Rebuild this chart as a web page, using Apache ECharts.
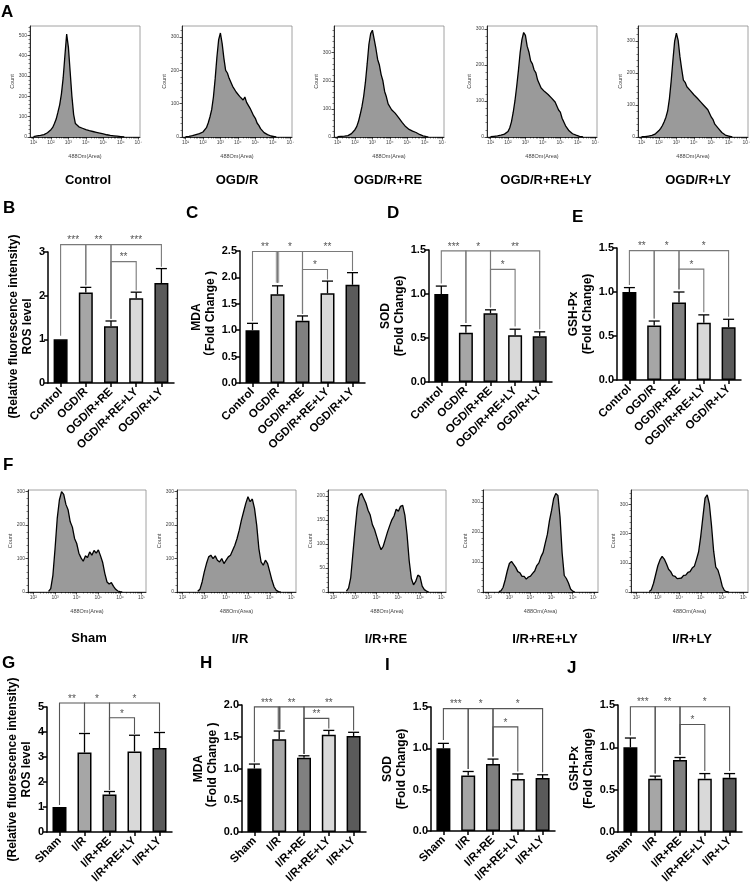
<!DOCTYPE html>
<html><head><meta charset="utf-8">
<script src="https://cdn.jsdelivr.net/npm/echarts@6/dist/echarts.min.js"></script>
<style>html,body{margin:0;padding:0;background:#fff}#c{width:753px;height:891px}</style>
</head><body><div id="c"></div>
<script>
// ---------------- DATA ----------------
const groupsA = ['Control', 'OGD/R', 'OGD/R+RE', 'OGD/R+RE+LY', 'OGD/R+LY'];
const groupsF = ['Sham', 'I/R', 'I/R+RE', 'I/R+RE+LY', 'I/R+LY'];

// flow cytometry histograms: counts per 0.1-decade bin, first bin at *Start (log10 of 488Om(Area))
const histBinStep = 0.1;
const controlHistStart = 1.0;
const controlHist = [2,3,5,4,8,10,12,15,21,27,36,47,66,88,122,158,212,290,400,505,440,320,200,110,66,58,50,54,43,46,36,40,31,35,27,30,23,26,19,21,15,17,11,13,8,10,6,6,4,4,2,1,0];
const ogdHistStart = 1.0;
const ogdHist = [1,2,2,3,4,5,7,8,10,12,15,20,28,42,60,82,120,175,240,292,312,280,236,200,192,176,170,152,150,135,132,122,120,111,120,104,100,86,80,64,56,42,35,25,19,13,11,7,6,3,2,1,0];
const ogdReHistStart = 1.0;
const ogdReHist = [1,1,2,2,3,4,5,8,12,18,26,37,55,80,108,145,195,260,330,368,380,348,315,276,256,222,200,162,143,118,112,97,99,85,83,69,65,52,49,37,36,27,28,21,22,16,15,9,8,4,3,1,0];
const ogdReLyHistStart = 1.0;
const ogdReLyHist = [1,1,2,2,3,3,5,6,8,11,15,25,42,68,100,140,185,235,270,290,282,252,236,211,203,186,178,158,153,136,140,126,131,118,121,108,113,97,93,75,69,52,48,31,27,17,15,9,9,5,4,2,1,0];
const ogdLyHistStart = 1.0;
const ogdLyHist = [1,1,1,2,3,3,5,7,10,14,20,27,36,48,62,82,120,175,240,300,325,302,252,213,178,171,157,153,145,143,132,131,121,123,109,111,97,97,85,80,62,54,40,37,27,24,14,12,6,6,3,1,0];

const shamHistStart = 2.7;
const shamHist = [2,10,50,130,220,275,300,292,262,246,210,194,160,145,116,102,92,108,103,120,110,124,116,126,108,88,55,30,24,28,17,8,3,1,0];
const irHistStart = 2.7;
const irHist = [2,8,30,60,85,105,110,100,108,95,90,100,85,95,105,110,125,140,160,185,215,240,265,285,270,278,250,200,130,90,80,95,85,60,35,15,5,1,0];
const irReHistStart = 2.6;
const irReHist = [2,8,30,80,130,175,200,205,195,185,170,160,140,130,115,100,88,95,110,125,138,150,158,172,168,178,180,160,120,65,28,15,22,35,32,12,5,2,0];
const irReLyHistStart = 2.5;
const irReLyHist = [1,4,15,40,70,95,102,92,82,68,64,52,52,43,50,53,62,70,88,97,118,132,163,192,238,272,312,328,322,250,130,55,45,30,10,3,0];
const irLyHistStart = 2.6;
const irLyHist = [2,8,30,60,90,110,122,113,97,78,70,56,54,46,47,48,57,58,67,70,82,88,112,138,192,258,322,333,302,228,140,85,75,50,20,5,1,0];

const logTicksA = [1,2,3,4,5,6,7];
const logTicksF = [2,3,4,5,6,7];
const countTicks300 = [0,100,200,300];
const countTicks500 = [0,100,200,300,400,500];
const countTicks200 = [0,50,100,150,200];

// bar charts (mean, upper error)
const rosOGD = [1.00, 2.07, 1.30, 1.94, 2.29];
const rosOGDErr = [0, 0.12, 0.12, 0.14, 0.33];
const mdaOGD = [1.00, 1.68, 1.18, 1.70, 1.86];
const mdaOGDErr = [0.13, 0.16, 0.09, 0.23, 0.23];
const sodOGD = [1.00, 0.56, 0.78, 0.53, 0.52];
const sodOGDErr = [0.09, 0.08, 0.04, 0.07, 0.05];
const gshOGD = [1.00, 0.62, 0.88, 0.65, 0.60];
const gshOGDErr = [0.05, 0.05, 0.12, 0.09, 0.09];
const rosIR = [1.00, 3.18, 1.50, 3.22, 3.36];
const rosIRErr = [0, 0.76, 0.12, 0.65, 0.62];
const mdaIR = [1.00, 1.46, 1.17, 1.53, 1.51];
const mdaIRErr = [0.07, 0.13, 0.03, 0.07, 0.06];
const sodIR = [1.00, 0.67, 0.81, 0.63, 0.64];
const sodIRErr = [0.06, 0.05, 0.06, 0.06, 0.04];
const gshIR = [1.00, 0.63, 0.85, 0.63, 0.64];
const gshIRErr = [0.11, 0.03, 0.03, 0.06, 0.05];

// significance brackets: [fromIdx, toIdx, topY, leftLegEndY, rightLegEndY, stars, thickRightLeg]
const rosOGDSig = [[0,1,3.17,1.08,2.24,'***'],[1,2,3.17,2.24,1.47,'**'],[2,4,3.17,1.47,2.66,'***'],[2,3,2.78,1.47,2.12,'**']];
const mdaOGDSig = [[0,1,2.49,1.17,1.90,'**',1],[1,2,2.49,1.90,1.31,'*'],[2,4,2.49,1.31,2.12,'**'],[2,3,2.15,1.31,1.96,'*']];
const sodOGDSig = [[0,1,1.49,1.12,0.67,'***'],[1,2,1.49,0.67,0.85,'*'],[2,4,1.49,0.85,0.60,'**'],[2,3,1.28,0.85,0.63,'*']];
const gshOGDSig = [[0,1,1.47,1.08,0.70,'**'],[1,2,1.47,0.70,1.03,'*'],[2,4,1.47,1.03,0.72,'*'],[2,3,1.26,1.03,0.77,'*']];
const rosIRSig = [[0,1,5.16,1.08,3.98,'**'],[1,2,5.16,3.98,1.68,'*'],[2,4,5.16,1.68,4.02,'*'],[2,3,4.57,1.68,3.92,'*']];
const mdaIRSig = [[0,1,1.97,1.10,1.62,'***',1],[1,2,1.97,1.62,1.23,'**'],[2,4,1.97,1.23,1.60,'**'],[2,3,1.79,1.23,1.63,'**']];
const sodIRSig = [[0,1,1.48,1.10,0.75,'***'],[1,2,1.48,0.75,0.90,'*'],[2,4,1.48,0.90,0.71,'*'],[2,3,1.26,0.90,0.72,'*']];
const gshIRSig = [[0,1,1.48,1.14,0.69,'***'],[1,2,1.48,0.69,0.91,'**'],[2,4,1.48,0.91,0.72,'*'],[2,3,1.27,0.91,0.72,'*']];

// ---------------- STYLE / LAYOUT ----------------
const FONT = '"Liberation Sans", Arial, "Noto Sans CJK SC", sans-serif';
const BAR_COLORS = ['#000000', '#a6a6a6', '#808080', '#d9d9d9', '#5a5a5a'];
const SUP = {1:'\u00b9',2:'\u00b2',3:'\u00b3',4:'\u2074',5:'\u2075',6:'\u2076',7:'\u2077'};

const grid = [], xAxis = [], yAxis = [], series = [];

function addHist(pos, xr, xTicks, yMax, yTicks, yMinor, start, counts) {
  const g = grid.length;
  grid.push({left: pos[0], top: pos[1], width: pos[2], height: pos[3], show: true, borderColor: '#8c8c8c', borderWidth: 0.8});
  const minorX = [];
  for (let d = Math.floor(xr[0]); d < xr[1]; d++) for (let k = 2; k <= 9; k++) {
    const v = d + Math.log10(k); if (v > xr[0] && v < xr[1]) minorX.push(v);
  }
  const minorY = [];
  for (let v = 0; v <= yMax; v += yMinor) if (yTicks.indexOf(v) < 0) minorY.push(v);
  const xi = xAxis.length;
  xAxis.push({type: 'value', gridIndex: g, position: 'bottom', min: xr[0], max: xr[1],
    axisLine: {show: true, lineStyle: {color: '#000', width: 0.8}},
    axisTick: {show: true, customValues: xTicks, length: 2.5, lineStyle: {color: '#000', width: 0.7}},
    axisLabel: {customValues: xTicks, formatter: v => '10' + SUP[Math.round(v)], fontSize: 5, color: '#444', margin: 3, fontFamily: FONT},
    splitLine: {show: false},
    name: '488Om(Area)', nameLocation: 'middle', nameGap: 17, nameTextStyle: {fontSize: 5.5, color: '#444', fontFamily: FONT}});
  xAxis.push({type: 'value', gridIndex: g, position: 'bottom', min: xr[0], max: xr[1],
    axisLine: {show: false}, axisTick: {show: true, customValues: minorX, length: 1.5, lineStyle: {color: '#000', width: 0.5}},
    axisLabel: {show: false}, splitLine: {show: false}});
  const yi = yAxis.length;
  yAxis.push({type: 'value', gridIndex: g, position: 'left', min: 0, max: yMax,
    axisLine: {show: true, lineStyle: {color: '#000', width: 0.8}},
    axisTick: {show: true, customValues: yTicks, length: 2.5, lineStyle: {color: '#000', width: 0.7}},
    axisLabel: {customValues: yTicks, fontSize: 5, color: '#444', margin: 3, fontFamily: FONT},
    splitLine: {show: false},
    name: 'Count', nameLocation: 'middle', nameRotate: 90, nameGap: 15, nameTextStyle: {fontSize: 5.5, color: '#444', fontFamily: FONT}});
  yAxis.push({type: 'value', gridIndex: g, position: 'left', min: 0, max: yMax,
    axisLine: {show: false}, axisTick: {show: true, customValues: minorY, length: 1.5, lineStyle: {color: '#000', width: 0.5}},
    axisLabel: {show: false}, splitLine: {show: false}});
  series.push({type: 'line', xAxisIndex: xi, yAxisIndex: yi, silent: true, symbol: 'none', showSymbol: false,
    data: counts.map((c, i) => [start + i * histBinStep, c]),
    lineStyle: {color: '#000', width: 1.3}, areaStyle: {color: '#9a9a9a', opacity: 1}});
}

function addBar(pos, cats, vals, errs, sig, yMax, yInt, dec, yName, nameGap, bracketColor, namePad) {
  const g = grid.length;
  grid.push({left: pos[0], top: pos[1], width: pos[2], height: pos[3]});
  const xi = xAxis.length;
  xAxis.push({type: 'category', gridIndex: g, data: cats,
    axisLine: {show: true, lineStyle: {color: '#000', width: 1.5}},
    axisTick: {show: true, alignWithLabel: true, length: 4, lineStyle: {color: '#000', width: 1.5}},
    axisLabel: {interval: 0, rotate: 45, fontSize: 11.5, fontWeight: 'bold', color: '#000', margin: 7, fontFamily: FONT}});
  const yi = yAxis.length;
  yAxis.push({type: 'value', gridIndex: g, min: 0, max: yMax, interval: yInt,
    axisLine: {show: true, lineStyle: {color: '#000', width: 1.5}},
    axisTick: {show: true, length: 4, lineStyle: {color: '#000', width: 1.5}},
    axisLabel: {fontSize: 11, fontWeight: 'bold', color: '#000', margin: 3, fontFamily: FONT, formatter: v => v.toFixed(dec)},
    splitLine: {show: false},
    name: yName, nameLocation: 'middle', nameRotate: 90, nameGap: nameGap,
    nameTextStyle: {fontSize: 12, fontWeight: 'bold', color: '#000', lineHeight: 14, fontFamily: FONT, padding: namePad || 0}});
  series.push({type: 'bar', xAxisIndex: xi, yAxisIndex: yi, barWidth: 14, silent: true, z: 2,
    data: vals.map((v, i) => ({value: v, itemStyle: {color: BAR_COLORS[i]}})),
    itemStyle: {borderColor: '#000', borderWidth: 1.5}});
  series.push({type: 'custom', xAxisIndex: xi, yAxisIndex: yi, silent: true, clip: false, z: 3,
    encode: {x: 0, y: 1},
    data: vals.map((v, i) => [i, v, errs[i]]).filter(d => d[2] > 0),
    renderItem: (params, api) => {
      const i = api.value(0), v = api.value(1), e = api.value(2);
      const p0 = api.coord([i, v]), p1 = api.coord([i, v + e]);
      return {type: 'group', children: [
        {type: 'line', shape: {x1: p0[0], y1: p0[1], x2: p1[0], y2: p1[1]}, style: {stroke: '#000', lineWidth: 1.3}},
        {type: 'line', shape: {x1: p1[0] - 5.5, y1: p1[1], x2: p1[0] + 5.5, y2: p1[1]}, style: {stroke: '#000', lineWidth: 1.3}}
      ]};
    }});
  series.push({type: 'custom', xAxisIndex: xi, yAxisIndex: yi, silent: true, clip: false, z: 4,
    encode: {x: 0, y: 1},
    data: sig.map(b => [b[0], b[2]]),
    renderItem: (params, api) => {
      const b = sig[params.dataIndex];
      const pl = api.coord([b[0], b[3]]), plt = api.coord([b[0], b[2]]);
      const prt = api.coord([b[1], b[2]]), pr = api.coord([b[1], b[4]]);
      const ch = [];
      if (b[6]) ch.push({type: 'line', shape: {x1: prt[0], y1: prt[1], x2: pr[0], y2: pr[1]}, style: {stroke: '#a9a9a9', lineWidth: 3.5}});
      ch.push({type: 'polyline', shape: {points: [pl, plt, prt, pr]}, style: {stroke: bracketColor, lineWidth: 1.1, fill: null}});
      ch.push({type: 'text', style: {text: b[5], x: (plt[0] + prt[0]) / 2, y: plt[1] + 1, align: 'center', verticalAlign: 'bottom', fontSize: 10, fill: '#555', fontFamily: FONT}});
      return {type: 'group', children: ch};
    }});
}

// Row A histograms
const hA = {top: 26, h: 111, w: 110, xr: [0.8, 7.1]};
addHist([30, hA.top, hA.w, hA.h], hA.xr, logTicksA, 545, countTicks500, 20, controlHistStart, controlHist);
addHist([182, hA.top, hA.w, hA.h], hA.xr, logTicksA, 333, countTicks300, 20, ogdHistStart, ogdHist);
addHist([334, hA.top, hA.w, hA.h], hA.xr, logTicksA, 395, countTicks300, 20, ogdReHistStart, ogdReHist);
addHist([487, hA.top, hA.w, hA.h], hA.xr, logTicksA, 308, countTicks300, 20, ogdReLyHistStart, ogdReLyHist);
addHist([638, hA.top, hA.w, hA.h], hA.xr, logTicksA, 347, countTicks300, 20, ogdLyHistStart, ogdLyHist);
// Row F histograms
const hF = {top: 490, h: 102, xr: [1.75, 7.2]};
addHist([28, hF.top, 118, hF.h], hF.xr, logTicksF, 305, countTicks300, 20, shamHistStart, shamHist);
addHist([177, hF.top, 119, hF.h], hF.xr, logTicksF, 305, countTicks300, 20, irHistStart, irHist);
addHist([328, hF.top, 118, hF.h], hF.xr, logTicksF, 212, countTicks200, 10, irReHistStart, irReHist);
addHist([483, hF.top, 115, hF.h], hF.xr, logTicksF, 340, countTicks300, 20, irReLyHistStart, irReLyHist);
addHist([631, hF.top, 117, hF.h], hF.xr, logTicksF, 350, countTicks300, 20, irLyHistStart, irLyHist);

// Bar panels
const C1 = '#7a7a7a', C2 = '#555';
addBar([48, 252, 126, 131], groupsA, rosOGD, rosOGDErr, rosOGDSig, 3, 1, 0, '(Relative fluorescence intensity)\nROS level', 10, C1, [0, 18, 0, 0]);
addBar([240, 251, 125, 132], groupsA, mdaOGD, mdaOGDErr, mdaOGDSig, 2.5, 0.5, 1, 'MDA\n\uff08Fold Change )', 20, C1);
addBar([429, 250, 123, 132], groupsA, sodOGD, sodOGDErr, sodOGDSig, 1.5, 0.5, 1, 'SOD\n(Fold Change)', 15, C1);
addBar([617, 248, 124, 132], groupsA, gshOGD, gshOGDErr, gshOGDSig, 1.5, 0.5, 1, 'GSH-Px\n(Fold Change)', 14, C1);
addBar([47, 707, 125, 125], groupsF, rosIR, rosIRErr, rosIRSig, 5, 1, 0, '(Relative fluorescence intensity)\nROS level', 10, C2);
addBar([242, 705, 124, 127], groupsF, mdaIR, mdaIRErr, mdaIRSig, 2.0, 0.5, 1, 'MDA\n\uff08Fold Change )', 20, C2);
addBar([431, 707, 124, 124], groupsF, sodIR, sodIRErr, sodIRSig, 1.5, 0.5, 1, 'SOD\n(Fold Change)', 19, C2);
addBar([618, 705, 124, 127], groupsF, gshIR, gshIRErr, gshIRSig, 1.5, 0.5, 1, 'GSH-Px\n(Fold Change)', 19, C2);

// Text labels
const letters = [['A',1,4],['B',3,200],['C',186,205],['D',387,205],['E',572,209],['F',3,457],['G',2,655],['H',200,655],['I',385,657],['J',567,660]];
const labelsA = [[88,180],[237,180],[388,180],[546,180],[698,180]];
const labelsF = [[89,638],[240,639],[386,639],[545,639],[692,639]];
const graphic = [];
letters.forEach(l => graphic.push({type: 'text', left: l[1], top: l[2], style: {text: l[0], font: 'bold 17px ' + FONT, fill: '#000'}}));
groupsA.forEach((t, i) => graphic.push({type: 'text', x: labelsA[i][0], y: labelsA[i][1], style: {text: t, font: 'bold 13px ' + FONT, fill: '#000', textAlign: 'center', textVerticalAlign: 'middle'}}));
groupsF.forEach((t, i) => graphic.push({type: 'text', x: labelsF[i][0], y: labelsF[i][1], style: {text: t, font: 'bold 13px ' + FONT, fill: '#000', textAlign: 'center', textVerticalAlign: 'middle'}}));

const chart = echarts.init(document.getElementById('c'), null, {renderer: 'canvas'});
chart.setOption({
  animation: false,
  backgroundColor: '#fff',
  textStyle: {fontFamily: FONT},
  grid, xAxis, yAxis, series, graphic
});
</script></body></html>
